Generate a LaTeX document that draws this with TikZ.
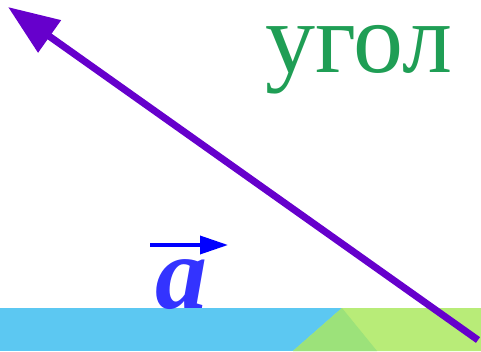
\documentclass[tikz,border=0pt]{standalone}
\usepackage{fontspec}
\setmainfont{Liberation Serif}
\usetikzlibrary{arrows.meta}
\definecolor{stripblue}{HTML}{5CC8F2}
\definecolor{stripgreen}{HTML}{B8EC78}
\definecolor{stripdark}{HTML}{9CE27A}
\definecolor{raypurple}{HTML}{6600CC}
\definecolor{wordgreen}{HTML}{1F9E55}
\definecolor{vecblue}{HTML}{3333FF}

\begin{document}
\begin{tikzpicture}[x=1pt, y=1pt, >=Triangle,
    ray/.style={line width=7pt, raypurple, -{Triangle[length=51pt, width=38pt]}},
    vecarrow/.style={line width=3.5pt, blue, -{Triangle[length=28pt, width=18pt]}}]

    \useasboundingbox (0,0) rectangle (481,351);

    % strip at the bottom
    \fill[stripblue] (0,0) rectangle (481,43);
    \fill[stripgreen] (342,43) -- (481,43) -- (481,0) -- (293,0) -- cycle;
    \fill[stripdark] (342,43) -- (293,0) -- (377,0) -- cycle;

    % labels
    \node[anchor=base west, inner sep=0pt, text height=50pt, text depth=22pt, text=wordgreen, font=\fontsize{100}{100}\selectfont] (word) at (265,278) {угол};
    \node[anchor=base west, inner sep=0pt, text=vecblue, font=\fontsize{104}{104}\selectfont\bfseries\itshape] (veca) at (155,43) {a};

    % vector and ray
    \coordinate (vstart) at (150,106);
    \coordinate (vend) at (228,106);
    \draw[vecarrow] (vstart) -- (vend);

    \coordinate (rstart) at (478,11);
    \coordinate (rtip) at (8,344);
    \draw[ray] (rstart) -- (rtip);

\end{tikzpicture}
\end{document}
